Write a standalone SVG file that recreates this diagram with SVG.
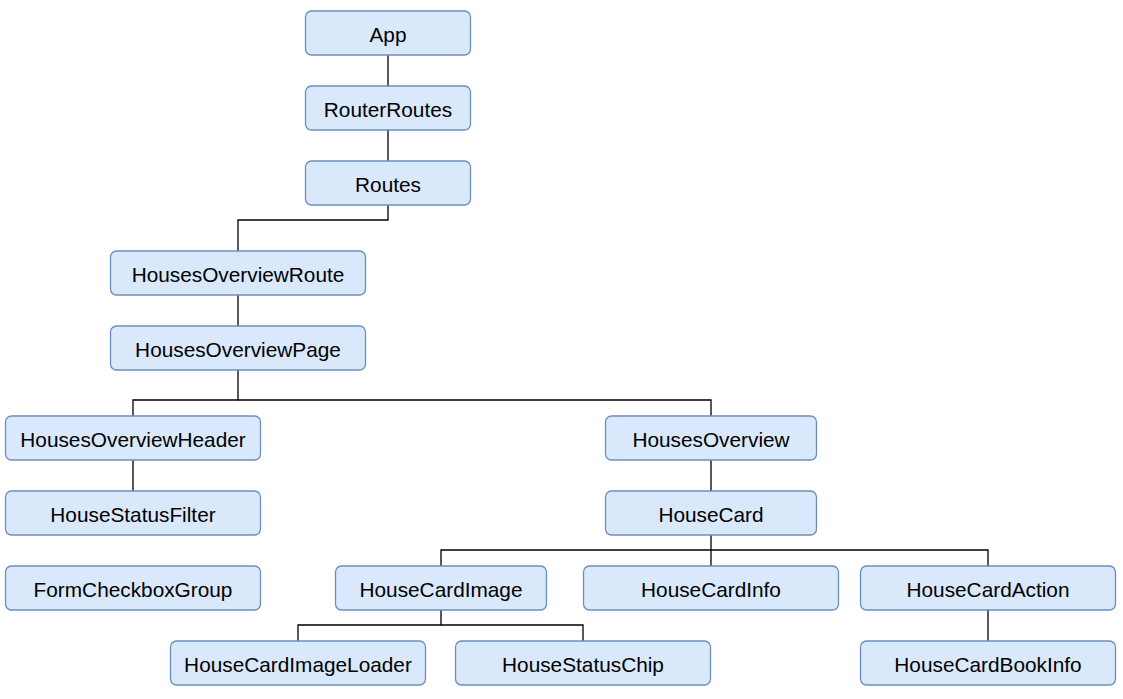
<svg xmlns="http://www.w3.org/2000/svg" width="1123" height="699" viewBox="0 0 1123 699">
<style>
.n rect{fill:#dae8fc;stroke:#6c8ebf;stroke-width:1.3}
.n text{font-family:"Liberation Sans",Arial,sans-serif;font-size:20.8px;fill:#000;text-anchor:middle;dominant-baseline:central}
.c path{fill:none;stroke:#000;stroke-width:1.3}
</style>
<rect width="1123" height="699" fill="#fff"/>
<g id="connectors" class="c">
<path d="M388 55V86"/>
<path d="M388 130V161"/>
<path d="M388 205V220H238V251"/>
<path d="M238 295V326"/>
<path d="M238 370V400H133V416"/>
<path d="M238 400H711V416"/>
<path d="M133 460V491"/>
<path d="M711 460V491"/>
<path d="M711 535V566"/>
<path d="M711 550H441V566"/>
<path d="M711 550H988V566"/>
<path d="M441 610V625H298V641"/>
<path d="M441 625H583V641"/>
<path d="M988 610V641"/>
</g>
<g id="App" class="n"><rect x="305.5" y="11" width="165" height="44" rx="6"/><text x="388" y="34">App</text></g>
<g id="RouterRoutes" class="n"><rect x="305.5" y="86" width="165" height="44" rx="6"/><text x="388" y="109">RouterRoutes</text></g>
<g id="Routes" class="n"><rect x="305.5" y="161" width="165" height="44" rx="6"/><text x="388" y="184">Routes</text></g>
<g id="HousesOverviewRoute" class="n"><rect x="110.5" y="251" width="255" height="44" rx="6"/><text x="238" y="274">HousesOverviewRoute</text></g>
<g id="HousesOverviewPage" class="n"><rect x="110.5" y="326" width="255" height="44" rx="6"/><text x="238" y="349">HousesOverviewPage</text></g>
<g id="HousesOverviewHeader" class="n"><rect x="5.5" y="416" width="255" height="44" rx="6"/><text x="133" y="439">HousesOverviewHeader</text></g>
<g id="HouseStatusFilter" class="n"><rect x="5.5" y="491" width="255" height="44" rx="6"/><text x="133" y="514">HouseStatusFilter</text></g>
<g id="FormCheckboxGroup" class="n"><rect x="5.5" y="566" width="255" height="44" rx="6"/><text x="133" y="589">FormCheckboxGroup</text></g>
<g id="HousesOverview" class="n"><rect x="605.5" y="416" width="211" height="44" rx="6"/><text x="711" y="439">HousesOverview</text></g>
<g id="HouseCard" class="n"><rect x="605.5" y="491" width="211" height="44" rx="6"/><text x="711" y="514">HouseCard</text></g>
<g id="HouseCardImage" class="n"><rect x="335.5" y="566" width="211" height="44" rx="6"/><text x="441" y="589">HouseCardImage</text></g>
<g id="HouseCardInfo" class="n"><rect x="583.5" y="566" width="255" height="44" rx="6"/><text x="711" y="589">HouseCardInfo</text></g>
<g id="HouseCardAction" class="n"><rect x="860.5" y="566" width="255" height="44" rx="6"/><text x="988" y="589">HouseCardAction</text></g>
<g id="HouseCardImageLoader" class="n"><rect x="170.5" y="641" width="255" height="44" rx="6"/><text x="298" y="664">HouseCardImageLoader</text></g>
<g id="HouseStatusChip" class="n"><rect x="455.5" y="641" width="255" height="44" rx="6"/><text x="583" y="664">HouseStatusChip</text></g>
<g id="HouseCardBookInfo" class="n"><rect x="860.5" y="641" width="255" height="44" rx="6"/><text x="988" y="664">HouseCardBookInfo</text></g>
</svg>
